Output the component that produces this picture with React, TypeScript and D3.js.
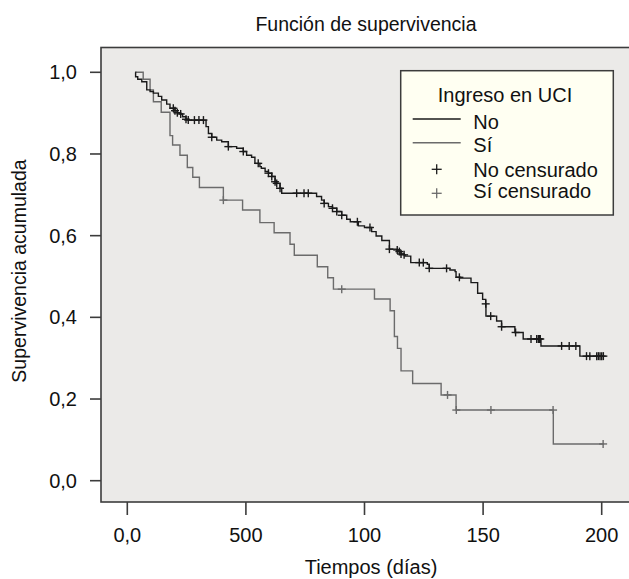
import React from "react";
import * as d3 from "d3";

const W = 629;
const H = 579;
const font = "'Liberation Sans', Arial, sans-serif";

// x ticks (labels as printed in the original)
const xTickValues = [0, 50, 100, 150, 200];
const xTickLabels = ["0,0", "500", "100", "150", "200"];
const yTickValues = [0, 0.2, 0.4, 0.6, 0.8, 1.0];
const yTickLabels = ["0,0", "0,2", "0,4", "0,6", "0,8", "1,0"];

// "No" group: step times and survival after each step
const noTimes = [3.4, 3.5, 4.4, 6.1, 8.2, 9.6, 11.0, 13.1, 14.5, 16.6, 18.0, 20.1, 21.1, 22.2, 23.3, 24.75, 25.7, 33.2, 34.2, 35.6, 37.7, 39.8, 42.6, 46.1, 48.9, 50.3, 52.4, 53.8, 55.9, 56.5, 58.1, 59.5, 60.9, 62.3, 63.0, 64.4, 65.1, 79.8, 81.9, 83.0, 84.8, 86.5, 88.3, 90.4, 92.5, 94.0, 97.4, 100.0, 103.0, 104.9, 107.3, 110.5, 113.6, 114.7, 115.4, 116.7, 117.1, 119.5, 126.5, 127.3, 136.0, 138.2, 138.6, 140.5, 144.9, 147.7, 149.8, 151.1, 151.2, 155.7, 157.8, 163.4, 166.9, 174.4, 190.8];
const noSurv = [1.0, 0.989, 0.983, 0.977, 0.957, 0.953, 0.949, 0.941, 0.932, 0.922, 0.912, 0.906, 0.901, 0.898, 0.891, 0.885, 0.883, 0.867, 0.850, 0.841, 0.834, 0.830, 0.818, 0.814, 0.806, 0.797, 0.792, 0.777, 0.769, 0.765, 0.757, 0.753, 0.745, 0.732, 0.728, 0.716, 0.704, 0.696, 0.687, 0.679, 0.671, 0.667, 0.659, 0.650, 0.640, 0.634, 0.624, 0.620, 0.610, 0.599, 0.588, 0.567, 0.565, 0.561, 0.555, 0.553, 0.550, 0.534, 0.530, 0.520, 0.516, 0.512, 0.498, 0.496, 0.485, 0.459, 0.444, 0.433, 0.403, 0.391, 0.377, 0.363, 0.347, 0.330, 0.305];
const noEnd = 201.0;
const noCensored = [19.4, 20.1, 21.1, 22.5, 24.75, 25.7, 28.3, 30.2, 32.1, 35.6, 42.6, 48.9, 55.2, 59.5, 60.9, 62.3, 63.0, 64.4, 71.4, 74.5, 76.3, 83.0, 86.5, 88.3, 90.4, 97.0, 102.3, 110.5, 113.8, 114.7, 115.4, 116.7, 123.1, 124.8, 127.3, 134.6, 140.0, 151.1, 153.2, 157.8, 163.7, 170.2, 172.6, 173.3, 173.7, 174.1, 183.1, 186.3, 189.1, 193.6, 195.0, 197.9, 198.6, 199.3, 200.0, 200.7];

// "Sí" group
const siTimes = [3.4, 6.7, 9.6, 11.0, 14.3, 18.0, 19.1, 22.2, 25.3, 27.6, 30.4, 40.5, 48.6, 55.9, 61.9, 68.6, 70.4, 80.1, 84.5, 86.9, 104.2, 110.8, 112.6, 113.9, 115.4, 120.3, 132.3, 138.6, 179.6];
const siSurv = [1.0, 0.983, 0.957, 0.928, 0.902, 0.845, 0.822, 0.797, 0.767, 0.743, 0.718, 0.687, 0.663, 0.632, 0.607, 0.579, 0.552, 0.524, 0.497, 0.469, 0.445, 0.416, 0.353, 0.324, 0.269, 0.238, 0.210, 0.173, 0.090];
const siEnd = 201.0;
const siCensored = [40.5, 90.4, 135.0, 138.7, 153.3, 179.5, 200.6];

const x = d3.scaleLinear().domain([0, 200]).range([127.3, 601.7]);
const y = d3.scaleLinear().domain([0, 1]).range([480.7, 72.3]);

const plotLeft = 101;
const plotTop = 47.5;
const plotBottom = 502;

const stepLine = d3
  .line<[number, number]>()
  .x((d) => x(d[0]))
  .y((d) => y(d[1]))
  .curve(d3.curveStepAfter);

function survAt(times: number[], surv: number[], t: number) {
  const i = d3.bisectRight(times, t) - 1;
  return surv[Math.max(0, i)];
}

function Curve({ times, surv, end, censored, color }: any) {
  const pts: [number, number][] = times.map((t: number, i: number) => [t, surv[i]]);
  pts.push([end, surv[surv.length - 1]]);
  return (
    <g>
      <path d={stepLine(pts) || ""} fill="none" stroke={color} strokeWidth={1.4} />
      {censored.map((t: number, i: number) => {
        const cx = x(t);
        const cy = y(survAt(times, surv, t));
        return (
          <g key={i} stroke={color} strokeWidth={1.4}>
            <line x1={cx - 4} x2={cx + 4} y1={cy} y2={cy} />
            <line x1={cx} x2={cx} y1={cy - 4} y2={cy + 4} />
          </g>
        );
      })}
    </g>
  );
}

const black = "#1a1a1a";
const gray = "#6b6b6b";
const axisColor = "#3c3c3c";

export default function App() {
  return (
    <svg width={W} height={H} style={{ position: "absolute", left: 0, top: 0, background: "#fff" }} fontFamily={font}>
      <text x={366} y={31} fontSize={19.5} textAnchor="middle" fill="#111">Función de supervivencia</text>

      <rect x={plotLeft} y={plotTop} width={W - plotLeft + 10} height={plotBottom - plotTop} fill="#ebeae8" stroke={axisColor} strokeWidth={1.6} />

      {/* y axis */}
      {yTickValues.map((v, i) => (
        <g key={i}>
          <line x1={90} x2={plotLeft} y1={y(v)} y2={y(v)} stroke={axisColor} strokeWidth={1.6} />
          <text x={77} y={y(v) + 7} fontSize={20} textAnchor="end" fill="#111">{yTickLabels[i]}</text>
        </g>
      ))}
      <text transform={`translate(26,271) rotate(-90)`} fontSize={19.5} textAnchor="middle" fill="#111">Supervivencia acumulada</text>

      {/* x axis */}
      {xTickValues.map((v, i) => (
        <g key={i}>
          <line x1={x(v)} x2={x(v)} y1={plotBottom} y2={515} stroke={axisColor} strokeWidth={1.6} />
          <text x={x(v)} y={542.3} fontSize={20} textAnchor="middle" fill="#111">{xTickLabels[i]}</text>
        </g>
      ))}
      <text x={371} y={574} fontSize={20} textAnchor="middle" fill="#111">Tiempos (días)</text>

      <Curve times={siTimes} surv={siSurv} end={siEnd} censored={siCensored} color={gray} />
      <Curve times={noTimes} surv={noSurv} end={noEnd} censored={noCensored} color={black} />

      {/* legend */}
      <g>
        <rect x={400.7} y={70.7} width={212.6} height={144.3} fill="#fffff2" stroke={axisColor} strokeWidth={1.5} />
        <text x={505} y={101.7} fontSize={20} textAnchor="middle" fill="#111">Ingreso en UCI</text>
        <line x1={412.7} x2={460.7} y1={119} y2={119} stroke={black} strokeWidth={1.4} />
        <text x={473.3} y={129} fontSize={20} fill="#111">No</text>
        <line x1={412.7} x2={460.7} y1={142.7} y2={142.7} stroke={gray} strokeWidth={1.4} />
        <text x={473.3} y={151.7} fontSize={20} fill="#111">Sí</text>
        <g stroke={black} strokeWidth={1.3}>
          <line x1={431.7} x2={441.7} y1={169.3} y2={169.3} />
          <line x1={436.7} x2={436.7} y1={164.3} y2={174.3} />
        </g>
        <text x={473.3} y={176.7} fontSize={20} fill="#111">No censurado</text>
        <g stroke={gray} strokeWidth={1.3}>
          <line x1={431.7} x2={441.7} y1={193.3} y2={193.3} />
          <line x1={436.7} x2={436.7} y1={188.3} y2={198.3} />
        </g>
        <text x={473.3} y={198.3} fontSize={20} fill="#111">Sí censurado</text>
      </g>
    </svg>
  );
}
